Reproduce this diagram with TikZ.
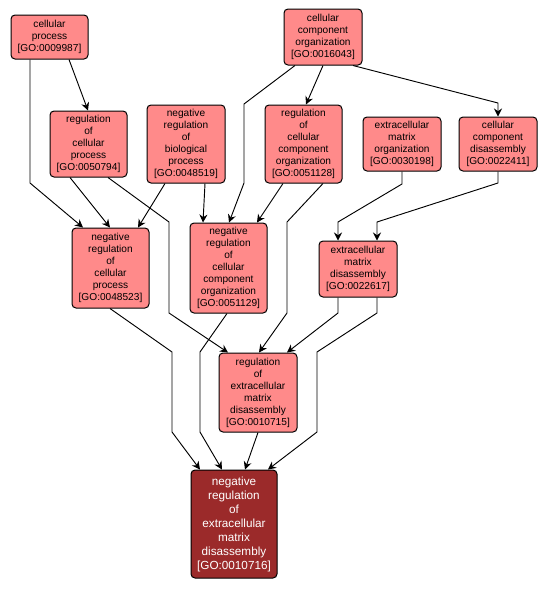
\documentclass[tikz,border=0pt]{standalone}
\usepackage{fontspec}
\setmainfont{Liberation Sans}
\usetikzlibrary{arrows.meta,calc}
\definecolor{goFill}{RGB}{255,138,138}
\definecolor{goDark}{RGB}{155,42,42}
\tikzset{
  goterm/.style={draw=black, line width=0.75pt, fill=goFill, rounded corners=3pt, inner sep=0pt,
    align=center, minimum width=57.75pt, font=\fontsize{7.6}{9}\selectfont},
  goquery/.style={goterm, fill=goDark, text=white, minimum width=64.5pt, font=\fontsize{8.8}{10.5}\selectfont},
  isa/.style={line width=0.7pt, -{Stealth[length=6pt,width=6pt,inset=2pt]}},
}
\begin{document}
\begin{tikzpicture}[x=0.75pt,y=0.75pt,yscale=-1,xscale=1]
\useasboundingbox (0,0) rectangle (548,590);

%Terms
\node [goterm, minimum height=33pt] (n0009987) at (49.5,37) {cellular\\process\\{[GO:0009987]}};
\node [goterm, minimum width=58.5pt, minimum height=42pt] (n0016043) at (323,37) {cellular\\component\\organization\\{[GO:0016043]}};
\node [goterm, minimum height=49.5pt] (n0050794) at (88.5,144) {regulation\\of\\cellular\\process\\{[GO:0050794]}};
\node [goterm, minimum width=58.5pt, minimum height=58.5pt] (n0048519) at (186,144) {negative\\regulation\\of\\biological\\process\\{[GO:0048519]}};
\node [goterm, minimum height=58.5pt] (n0051128) at (303.5,144) {regulation\\of\\cellular\\component\\organization\\{[GO:0051128]}};
\node [goterm, minimum width=58.5pt, minimum height=40.5pt] (n0030198) at (402,144) {extracellular\\matrix\\organization\\{[GO:0030198]}};
\node [goterm, minimum width=58.5pt, minimum height=40.5pt] (n0022411) at (498,144) {cellular\\component\\disassembly\\{[GO:0022411]}};
\node [goterm, minimum height=60pt] (n0048523) at (110.5,268) {negative\\regulation\\of\\cellular\\process\\{[GO:0048523]}};
\node [goterm, minimum height=67.5pt] (n0051129) at (228.5,268) {negative\\regulation\\of\\cellular\\component\\organization\\{[GO:0051129]}};
\node [goterm, minimum width=58.5pt, minimum height=42pt] (n0022617) at (358,269) {extracellular\\matrix\\disassembly\\{[GO:0022617]}};
\node [goterm, minimum width=58.5pt, minimum height=59.25pt] (n0010715) at (258,392.5) {regulation\\of\\extracellular\\matrix\\disassembly\\{[GO:0010715]}};
\node [goquery, minimum height=81pt] (n0010716) at (234,524) {negative\\regulation\\of\\extracellular\\matrix\\disassembly\\{[GO:0010716]}};

%Edges
\draw [isa] ($(n0009987.south)+(19.5,0)$) -- ($(n0050794.north)+(-0.5,0)$);
\draw [isa] ($(n0009987.south)+(-19.5,0)$) -- (30,183) -- ($(n0048523.north)+(-27.5,0)$);
\draw [isa] ($(n0050794.south)+(-18.5,0)$) -- ($(n0048523.north)+(-0.5,0)$);
\draw [isa] ($(n0050794.south)+(19.5,0)$) -- (169,222) -- (169,313) -- ($(n0010715.north)+(-30,0)$);
\draw [isa] ($(n0048519.south)+(-21,0)$) -- ($(n0048523.north)+(27.5,0)$);
\draw [isa] ($(n0048519.south)+(19,0)$) -- ($(n0051129.north)+(-25.5,0)$);
\draw [isa] ($(n0016043.south)+(-28,0)$) -- (244,104) -- (244,183) -- ($(n0051129.north)+(0.5,0)$);
\draw [isa] (n0016043.south) -- ($(n0051128.north)+(2.5,0)$);
\draw [isa] ($(n0016043.south)+(30,0)$) -- (498,103) -- (n0022411.north);
\draw [isa] ($(n0051128.south)+(-20.5,0)$) -- ($(n0051129.north)+(28.5,0)$);
\draw [isa] ($(n0051128.south)+(19.5,0)$) -- (287,222) -- (287,313) -- ($(n0010715.north)+(1,0)$);
\draw [isa] (n0030198.south) -- (402,184) -- (338,222) -- ($(n0022617.north)+(-20,0)$);
\draw [isa] (n0022411.south) -- (498,183) -- (377,222) -- ($(n0022617.north)+(19,0)$);
\draw [isa] ($(n0048523.south)+(-0.5,0)$) -- (172,352) -- (172,432) -- ($(n0010716.north)+(-34,0)$);
\draw [isa] ($(n0051129.south)+(-1.5,0)$) -- (200,352) -- (200,432) -- ($(n0010716.north)+(-12,0)$);
\draw [isa] ($(n0022617.south)+(-20,0)$) -- (338,313) -- ($(n0010715.north)+(29,0)$);
\draw [isa] ($(n0022617.south)+(19,0)$) -- (377,313) -- (317,352) -- (317,432) -- ($(n0010716.north)+(34,0)$);
\draw [isa] (n0010715.south) -- ($(n0010716.north)+(11,0)$);

\end{tikzpicture}
\end{document}
